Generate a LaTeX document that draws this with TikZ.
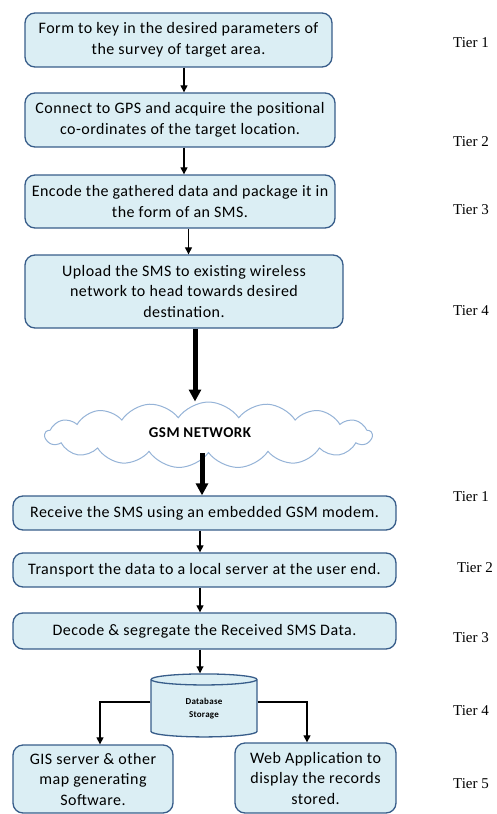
\documentclass[tikz,border=0pt]{standalone}
\usepackage{fontspec}
\setmainfont[LetterSpace=3]{Carlito}
\newfontfamily\tierfont{Liberation Serif}
\usetikzlibrary{shapes.geometric,shapes.symbols,arrows.meta}
\definecolor{boxfill}{HTML}{DBEEF4}
\definecolor{boxdraw}{HTML}{385D8A}
\definecolor{clouddraw}{HTML}{95B3D7}
\tikzset{
  stepbox/.style={draw=boxdraw, line width=1.3pt, fill=boxfill, rounded corners=10pt,
    align=center, inner sep=2pt, font=\fontsize{16}{20.5}\selectfont},
  tier/.style={font=\tierfont\fontsize{15}{17}\selectfont, inner sep=0pt},
  thin arrow/.style={draw=black, line width=1.1pt, -{Triangle[length=7pt,width=7pt]}},
  thick arrow/.style={draw=black, line width=5pt, -{Triangle[length=12pt,width=12pt]}},
}
\begin{document}
\begin{tikzpicture}[x=1pt,y=-1pt]
\useasboundingbox (0,0) rectangle (497,814);
% upper chain
\node[stepbox, minimum width=307pt, minimum height=54pt] (b1) at (178.5,40)
  {Form to key in the desired parameters of\\the survey of target area.};
\node[stepbox, minimum width=310pt, minimum height=54pt] (b2) at (180,120)
  {Connect to GPS and acquire the positional\\co-ordinates of the target location.};
\node[stepbox, minimum width=310pt, minimum height=53pt] (b3) at (180,201.5)
  {Encode the gathered data and package it in\\the form of an SMS.};
\node[stepbox, minimum width=318pt, minimum height=73pt] (b4) at (184,291.5)
  {Upload the SMS to existing wireless\\network to head towards desired\\destination.};
% cloud
\node[cloud, cloud puffs=17, cloud puff arc=110, aspect=5.2, draw=clouddraw, line width=1pt,
  fill=white, minimum width=327pt, minimum height=66pt, inner sep=0pt] (gsm) at (208.5,435) {};
\node[font=\bfseries\fontsize{15}{17}\selectfont] (gsmt) at (200,433) {GSM NETWORK};
% lower chain
\node[stepbox, minimum width=383pt, minimum height=34pt] (b5) at (204.5,513)
  {Receive the SMS using an embedded GSM modem.};
\node[stepbox, minimum width=383pt, minimum height=34pt] (b6) at (204.5,570)
  {Transport the data to a local server at the user end.};
\node[stepbox, minimum width=383pt, minimum height=36pt] (b7) at (204.5,631)
  {Decode \& segregate the Received SMS Data.};
\node[cylinder, shape border rotate=90, aspect=0.3, draw=boxdraw, line width=1.3pt,
  fill=boxfill, minimum width=106pt, minimum height=63pt, inner sep=0pt, align=center,
  font=\bfseries\fontsize{9}{13}\selectfont] (db) at (204,708.5) {Database\\Storage};
\node[stepbox, minimum width=160pt, minimum height=68pt] (bl) at (93,779)
  {GIS server \& other\\map generating\\Software.};
\node[stepbox, minimum width=161pt, minimum height=70pt] (br) at (315.5,778)
  {Web Application to\\display the records\\stored.};
% arrows
\draw[thin arrow] (b1.south -| 184,0) -- (b2.north -| 184,0);
\draw[thin arrow] (b2.south -| 184,0) -- (b3.north -| 184,0);
\draw[thin arrow] (b3.south -| 188.5,0) -- (b4.north -| 188.5,0);
\draw[thick arrow] (b4.south -| 195,0) -- (gsm.north -| 195,0);
\draw[thick arrow] (gsm.south -| 202,0) -- (b5.north -| 202,0);
\draw[thin arrow] (b5.south -| 200,0) -- (b6.north -| 200,0);
\draw[thin arrow] (b6.south -| 200,0) -- (b7.north -| 200,0);
\draw[thin arrow] (b7.south -| 200,0) -- (db.top -| 200,0);
\draw[thin arrow] (db.west |- 0,702) -| (bl.north -| 100,0);
\draw[thin arrow] (db.east |- 0,702) -| (br.north -| 307,0);
% tiers
\node[tier] (t1) at (471,43) {Tier 1};
\node[tier] (t2) at (471,142) {Tier 2};
\node[tier] (t3) at (471,210) {Tier 3};
\node[tier] (t4) at (471,311) {Tier 4};
\node[tier] (u1) at (471,497) {Tier 1};
\node[tier] (u2) at (475,568) {Tier 2};
\node[tier] (u3) at (471,638) {Tier 3};
\node[tier] (u4) at (471,711) {Tier 4};
\node[tier] (u5) at (471,784) {Tier 5};
\end{tikzpicture}
\end{document}
